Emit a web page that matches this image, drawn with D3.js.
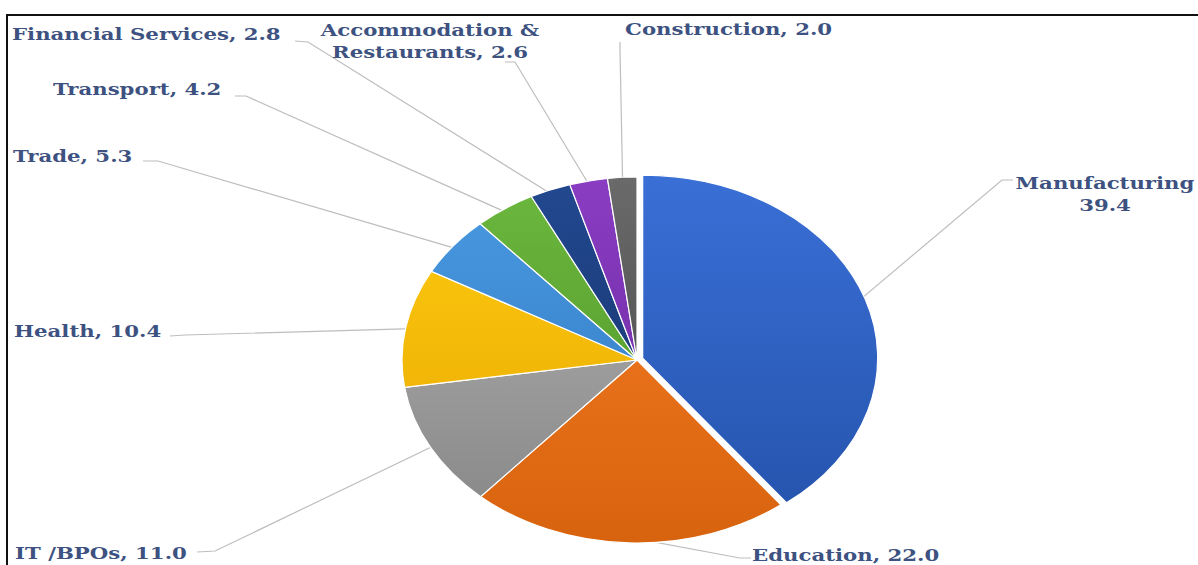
<!DOCTYPE html>
<html>
<head>
<meta charset="utf-8">
<script src="https://cdn.jsdelivr.net/npm/d3@7"></script>
<style>
  html, body { margin: 0; padding: 0; background: #fff; }
  svg { display: block; }
  .lbl { font-family: "DejaVu Serif", serif; font-weight: bold; font-size: 17px; fill: #3d5280; }
</style>
</head>
<body>
<svg id="chart" width="1198" height="565"></svg>
<script>
// ---- data ----
const categories = ["Manufacturing", "Education", "IT /BPOs", "Health", "Trade",
                    "Transport", "Financial Services", "Accommodation & Restaurants", "Construction"];
const values = [39.4, 22.0, 11.0, 10.4, 5.3, 4.2, 2.8, 2.6, 2.0];
const colorsTop = ["#3a6fd6", "#f77e26", "#b4b4b4", "#ffcd10", "#4a9be2", "#6cb83e", "#22488f", "#8a3dc2", "#6a6a6a"];
const colorsBottom = ["#2352aa", "#d8630e", "#858585", "#e6a400", "#2f74bd", "#4c9026", "#163269", "#66269a", "#424242"];

// ---- layout (not data) ----
const W = 1198, H = 565;
const cx = 637, cy = 360, rx = 235, ry = 183;
const textScaleX = 1.25;
const labelLayout = {
  "Manufacturing":               { lines: ["Manufacturing", "39.4"], x: 1105, y: 189, anchor: "middle", leader: [[1013, 180], [1002, 180]] },
  "Education":                   { lines: ["Education, 22.0"], x: 752, y: 561, anchor: "start", leader: [[751, 558], [740, 558]] },
  "IT /BPOs":                    { lines: ["IT /BPOs, 11.0"], x: 15, y: 559, anchor: "start", leader: [[197, 552], [215, 551]] },
  "Health":                      { lines: ["Health, 10.4"], x: 14, y: 337, anchor: "start", leader: [[170, 336], [185, 335]] },
  "Trade":                       { lines: ["Trade, 5.3"], x: 13, y: 162, anchor: "start", leader: [[143, 161], [158, 161]] },
  "Transport":                   { lines: ["Transport, 4.2"], x: 53, y: 95, anchor: "start", leader: [[235, 96], [246, 96]] },
  "Financial Services":          { lines: ["Financial Services, 2.8"], x: 12, y: 40, anchor: "start", leader: [[295, 41], [308, 42]] },
  "Accommodation & Restaurants": { lines: ["Accommodation &", "Restaurants, 2.6"], x: 430, y: 36, anchor: "middle", leader: [[505, 62], [515, 62]] },
  "Construction":                { lines: ["Construction, 2.0"], x: 625, y: 35, anchor: "start", leader: [[620, 42], [620, 50]] }
};

const svg = d3.select("#chart");
svg.append("rect").attr("width", W).attr("height", H).attr("fill", "#fff");

// border (top + left)
svg.append("path").attr("d", `M7,${H} L7,15 L${W},15`).attr("fill", "none")
  .attr("stroke", "#111").attr("stroke-width", 2);

const data = categories.map((c, i) => ({ cat: c, value: values[i], i }));
const pie = d3.pie().sort(null).value(d => d.value);
const arcs = pie(data);

const defs = svg.append("defs");
arcs.forEach((a, i) => {
  const g = defs.append("linearGradient").attr("id", "g" + i)
    .attr("gradientUnits", "userSpaceOnUse")
    .attr("x1", 0).attr("y1", -rx).attr("x2", 0).attr("y2", rx);
  g.append("stop").attr("offset", "0%").attr("stop-color", colorsTop[i]);
  g.append("stop").attr("offset", "100%").attr("stop-color", colorsBottom[i]);
});

const ratio = ry / rx;
function edgePoint(a, k) {
  const ang = (a.startAngle + a.endAngle) / 2;
  const off = a.index === 0 ? 6 : 0;
  return [cx + (rx * k + off) * Math.sin(ang), cy - (rx * k + off) * ratio * Math.cos(ang)];
}

// leader lines (drawn under the pie)
const leaders = svg.append("g");
arcs.forEach(a => {
  const L = labelLayout[a.data.cat];
  const pts = L.leader.concat([edgePoint(a, 0.97)]);
  leaders.append("path").attr("d", d3.line()(pts))
    .attr("fill", "none").attr("stroke", "#bdbdbd").attr("stroke-width", 1.2);
});

// pie
const arcGen = d3.arc().innerRadius(0).outerRadius(rx);
const pg = svg.append("g").attr("transform", `translate(${cx},${cy}) scale(1,${ratio})`);
pg.selectAll("path.slice").data(arcs).join("path")
  .attr("class", "slice")
  .attr("d", arcGen)
  .attr("transform", d => {
    if (d.index !== 0) return null;
    const ang = (d.startAngle + d.endAngle) / 2, off = 6;
    return `translate(${off * Math.sin(ang)},${-off * Math.cos(ang) / ratio})`;
  })
  .attr("fill", (d, i) => `url(#g${i})`)
  .attr("stroke", "#fff").attr("stroke-width", 1.2)
  .attr("vector-effect", "non-scaling-stroke");

// labels
const lg = svg.append("g");
arcs.forEach(a => {
  const L = labelLayout[a.data.cat];
  const t = lg.append("text").attr("class", "lbl").attr("text-anchor", L.anchor)
    .attr("transform", `translate(${L.x},${L.y}) scale(${textScaleX},1)`);
  L.lines.forEach((ln, j) => {
    t.append("tspan").attr("x", 0).attr("dy", j === 0 ? 0 : 22).text(ln);
  });
});
</script>
</body>
</html>
